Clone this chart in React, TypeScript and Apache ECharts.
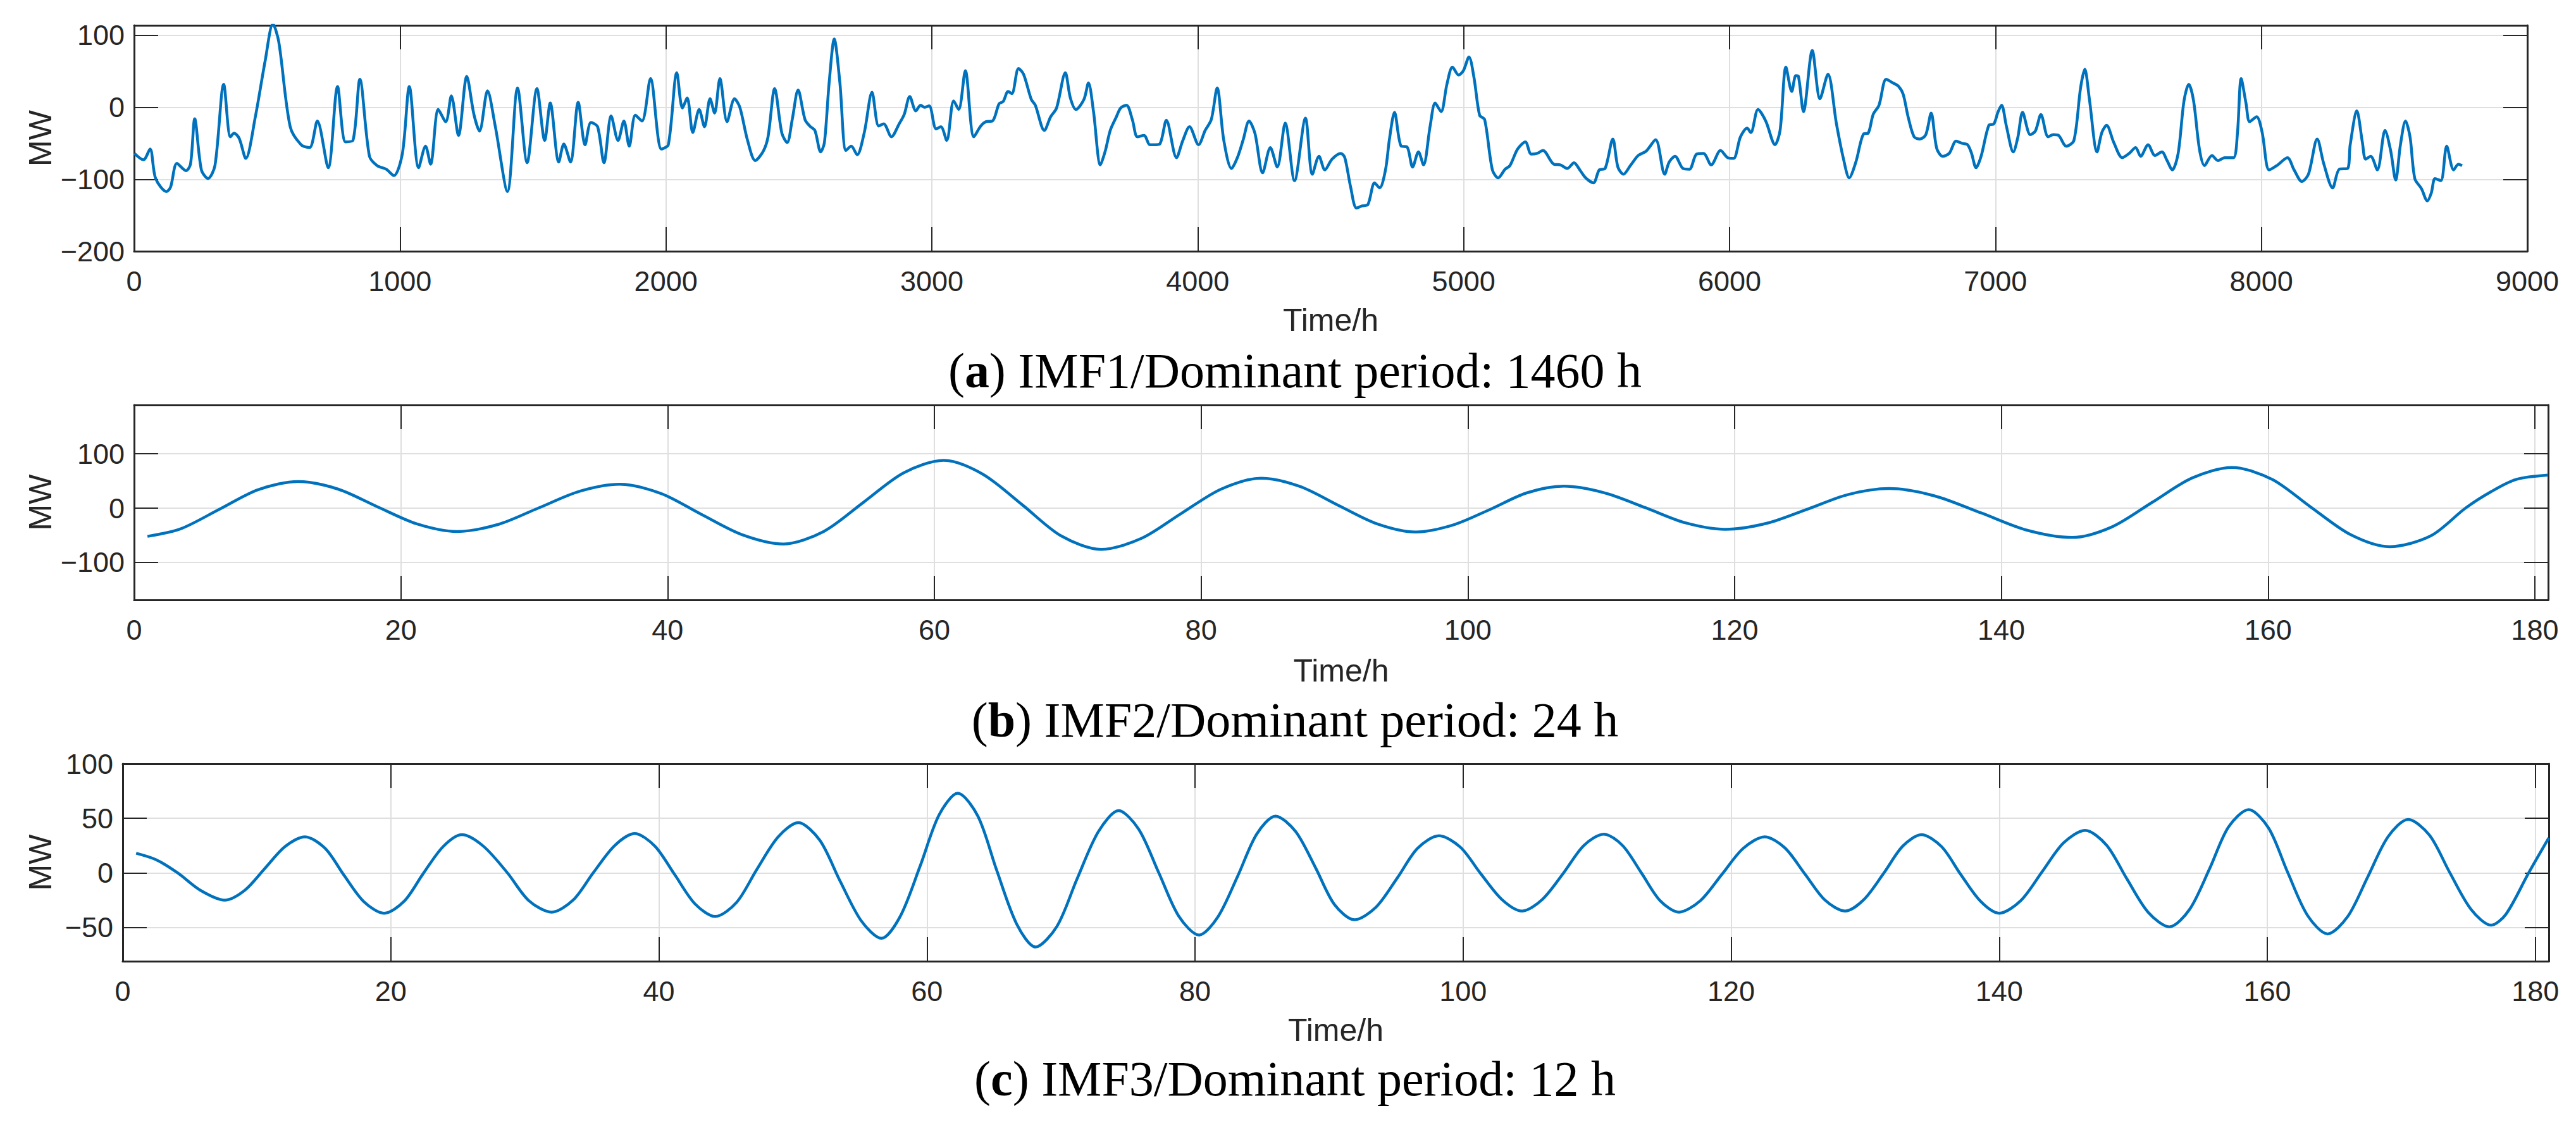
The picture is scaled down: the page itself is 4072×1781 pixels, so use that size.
import React, { useEffect, useRef } from 'react';
import * as echarts from 'echarts';

// IMF1: [hour, MW]
const imf1: number[][] = [
  [1, -64], [35, -73], [60, -58], [81, -99], [122, -117], [137, -111], [161, -78], [195, -88], [212, -79], [228, -16],
  [253, -87], [278, -99], [304, -81], [337, 32], [362, -41], [376, -36], [395, -43], [420, -71], [456, -13], [493, 65],
  [522, 116], [544, 91], [587, -27], [628, -52], [660, -56], [689, -19], [730, -84], [765, 29], [795, -48], [823, -46],
  [849, 39], [885, -68], [914, -81], [948, -86], [977, -95], [1009, -64], [1035, 29], [1070, -84], [1096, -54], [1115, -79],
  [1144, -3], [1172, -20], [1193, 16], [1220, -39], [1251, 43], [1278, -10], [1299, -33], [1329, 23], [1358, -26], [1404, -117],
  [1442, 27], [1478, -77], [1515, 26], [1544, -46], [1565, 6], [1597, -76], [1616, -51], [1641, -76], [1670, 7], [1696, -52],
  [1718, -21], [1743, -27], [1767, -77], [1794, -12], [1820, -46], [1842, -19], [1862, -54], [1885, -11], [1910, -19], [1942, 40],
  [1983, -58], [2009, -52], [2041, 48], [2062, -1], [2080, 13], [2101, -35], [2125, -3], [2145, -27], [2166, 12], [2183, -8],
  [2203, 40], [2230, -20], [2258, 12], [2278, 0], [2307, -46], [2336, -74], [2366, -61], [2384, -41], [2409, 26], [2436, -36],
  [2456, -49], [2475, -17], [2497, 24], [2523, -17], [2541, -26], [2560, -32], [2582, -62], [2596, -49], [2614, 35], [2633, 95],
  [2654, 35], [2677, -60], [2697, -54], [2719, -66], [2746, -35], [2775, 21], [2800, -26], [2819, -23], [2848, -41], [2877, -23],
  [2896, -10], [2917, 15], [2940, -5], [2958, 3], [2972, 0], [2990, 2], [3016, -30], [3034, -27], [3056, -46], [3082, 9],
  [3101, -3], [3126, 51], [3158, -41], [3184, -26], [3203, -20], [3228, -19], [3253, 5], [3268, 8], [3287, 22], [3301, 19],
  [3326, 54], [3345, 46], [3374, 11], [3389, 3], [3423, -32], [3447, -13], [3469, -1], [3502, 48], [3521, 13], [3542, -3],
  [3572, 11], [3589, 34], [3608, -6], [3634, -80], [3652, -61], [3671, -32], [3693, -14], [3710, -1], [3732, 3], [3754, -17],
  [3773, -41], [3798, -39], [3820, -52], [3835, -52], [3857, -51], [3882, -18], [3920, -70], [3944, -46], [3969, -27], [4003, -52],
  [4028, -32], [4051, -17], [4073, 27], [4098, -46], [4127, -85], [4149, -70], [4171, -45], [4193, -19], [4215, -36], [4244, -91],
  [4273, -56], [4299, -83], [4329, -22], [4364, -102], [4405, -15], [4431, -93], [4456, -68], [4478, -87], [4505, -72], [4538, -64],
  [4553, -70], [4575, -111], [4597, -140], [4618, -137], [4640, -135], [4665, -105], [4684, -112], [4706, -87], [4721, -44], [4740, -7],
  [4765, -54], [4787, -55], [4808, -83], [4830, -62], [4849, -80], [4874, -26], [4893, 6], [4915, -6], [4937, 32], [4958, 56],
  [4981, 45], [4999, 51], [5020, 70], [5039, 41], [5060, -11], [5079, -17], [5108, -87], [5130, -98], [5156, -86], [5174, -81],
  [5203, -58], [5232, -48], [5254, -65], [5276, -64], [5298, -60], [5339, -79], [5364, -80], [5390, -85], [5415, -77], [5437, -87],
  [5459, -98], [5488, -105], [5510, -87], [5532, -85], [5561, -44], [5580, -83], [5601, -93], [5627, -81], [5656, -67], [5686, -61],
  [5722, -45], [5756, -93], [5773, -76], [5795, -68], [5825, -85], [5849, -86], [5876, -65], [5902, -64], [5931, -80], [5966, -60],
  [5993, -70], [6015, -71], [6041, -41], [6066, -29], [6080, -35], [6107, -3], [6136, -19], [6171, -52], [6190, -32], [6212, 56],
  [6234, 22], [6249, 44], [6259, 43], [6278, -6], [6311, 79], [6340, 12], [6370, 46], [6402, -23], [6428, -71], [6450, -98],
  [6475, -76], [6504, -37], [6521, -36], [6540, -10], [6562, 3], [6589, 39], [6614, 34], [6636, 29], [6653, 18], [6672, -14],
  [6694, -41], [6716, -44], [6738, -38], [6758, -8], [6779, -57], [6801, -68], [6826, -64], [6852, -47], [6874, -50], [6895, -52],
  [6910, -64], [6927, -84], [6946, -68], [6975, -25], [6994, -23], [7009, -7], [7023, 3], [7041, -26], [7067, -62], [7084, -42],
  [7102, -7], [7131, -38], [7150, -33], [7171, -10], [7198, -41], [7218, -38], [7237, -39], [7266, -54], [7295, -46], [7320, 27],
  [7336, 53], [7353, 12], [7382, -62], [7400, -35], [7418, -25], [7445, -49], [7477, -70], [7503, -64], [7527, -56], [7546, -68],
  [7574, -52], [7600, -67], [7626, -62], [7644, -73], [7665, -87], [7687, -64], [7709, 9], [7727, 32], [7745, 9], [7767, -58],
  [7786, -81], [7814, -67], [7837, -74], [7862, -70], [7895, -70], [7910, -36], [7924, 40], [7942, 6], [7956, -20], [7982, -13],
  [8003, -35], [8029, -87], [8058, -81], [8098, -70], [8123, -87], [8152, -103], [8177, -93], [8210, -44], [8235, -79], [8268, -112],
  [8293, -86], [8324, -85], [8334, -52], [8359, -5], [8380, -49], [8392, -72], [8411, -68], [8436, -87], [8465, -32], [8486, -60],
  [8505, -101], [8523, -52], [8542, -19], [8559, -41], [8577, -99], [8602, -113], [8624, -130], [8639, -119], [8653, -99], [8675, -102],
  [8697, -54], [8723, -87], [8741, -79], [8755, -81],
];

// IMF2
const imf2: number[][] = [
  [1, -52], [3.5, -38], [6.4, -2], [9.3, 34], [12.3, 49],
  [15.3, 35], [18.2, 3], [21.2, -29], [24.2, -43],
  [27.3, -30], [30.3, 0], [33.4, 31], [36.4, 44],
  [39.5, 27], [42.5, -11], [45.6, -49], [48.7, -66],
  [51.7, -43], [54.7, 11], [57.7, 65], [60.7, 88],
  [63.6, 63], [66.6, 6], [69.5, -51], [72.5, -76],
  [75.5, -56], [78.5, -10], [81.5, 35], [84.5, 55],
  [87.4, 40], [90.3, 5], [93.2, -29], [96.1, -44],
  [98.9, -31], [101.7, -2], [104.4, 28], [107.2, 40.5],
  [110.2, 28.5], [113.3, 1], [116.3, -27], [119.3, -39],
  [122.4, -28], [125.5, -1.5], [128.5, 25], [131.6, 36],
  [135, 22.5], [138.5, -9], [141.9, -40.5], [145.3, -54],
  [148.3, -34.5], [151.3, 10.5], [154.3, 55.5], [157.3, 75],
  [160.3, 53], [163.2, 2], [166.2, -49], [169.1, -71],
  [172.2, -51], [174.8, 0], [176.7, 30], [178.6, 53], [181, 61],
];

// IMF3
const imf3: number[][] = [
  [1, 18], [2.5, 12], [4.1, 0], [5.8, -16], [7.6, -25],
  [9.1, -16], [10.6, 4], [12.1, 24], [13.6, 33],
  [15.1, 22.5], [16.5, -2], [18.0, -26.5], [19.5, -37],
  [21.0, -26], [22.4, -1], [23.9, 24], [25.3, 35],
  [26.9, 24.5], [28.7, 0], [30.3, -25.5], [32.0, -36],
  [33.6, -25], [35.1, 0], [36.7, 25], [38.2, 36],
  [39.7, 24.5], [41.2, -2], [42.7, -28.5], [44.2, -40],
  [45.8, -27], [47.3, 3], [48.9, 33], [50.4, 46],
  [52.0, 30], [53.5, -7], [55.1, -44], [56.6, -60],
  [58.0, -40], [59.5, 6.5], [60.9, 53], [62.3, 73],
  [63.8, 52], [65.2, 2.5], [66.7, -47], [68.1, -68],
  [69.7, -49], [71.2, -5.5], [72.8, 38], [74.3, 57],
  [75.8, 40], [77.3, 0], [78.8, -40], [80.3, -57],
  [81.7, -40.5], [83.2, -2.5], [84.6, 35.5], [86.0, 52],
  [87.5, 38], [89.0, 4.5], [90.4, -29], [91.9, -43],
  [93.5, -31.5], [95.1, -4.5], [96.6, 22.5], [98.2, 34],
  [99.8, 23.5], [101.3, -0.5], [102.9, -24.5], [104.4, -35],
  [105.9, -24.5], [107.5, 0], [109.0, 25], [110.5, 35.5],
  [111.9, 25], [113.3, 0], [114.7, -25.5], [116.1, -36],
  [117.7, -25.5], [119.3, -1.5], [120.9, 22.5], [122.5, 33],
  [124.0, 23], [125.5, -1], [127.0, -25], [128.5, -35],
  [129.9, -24.5], [131.4, 0], [132.8, 24.5], [134.2, 35],
  [135.7, 24], [137.1, -1], [138.6, -26], [140.0, -37],
  [141.6, -25.5], [143.2, 1], [144.8, 27.5], [146.4, 39],
  [148.0, 25.5], [149.5, -5], [151.1, -36], [152.7, -49.5],
  [154.2, -33.5], [155.7, 4], [157.1, 42], [158.6, 58],
  [160.1, 41], [161.5, 1], [163.0, -39], [164.5, -56],
  [166.0, -40], [167.5, -3.5], [169.0, 33], [170.5, 49],
  [172.1, 34.5], [173.6, 0.5], [175.2, -33.5], [176.7, -48],
  [177.8, -38], [179.5, 0], [181, 32],
];

const timeTicksA = [0, 1000, 2000, 3000, 4000, 5000, 6000, 7000, 8000, 9000];
const timeTicksBC = [0, 20, 40, 60, 80, 100, 120, 140, 160, 180];
const mwTicksA = [-200, -100, 0, 100];
const mwTicksB = [-100, 0, 100];
const mwTicksC = [-50, 0, 50, 100];

const captionLetters = ['a', 'b', 'c'];
const captionTexts = [
  ' IMF1/Dominant period: 1460 h',
  ' IMF2/Dominant period: 24 h',
  ' IMF3/Dominant period: 12 h',
];

const DARK = '#262626';
const GRID_GRAY = '#dfdfdf';
const LINE_BLUE = '#0072BD';
const SANS = '"Liberation Sans", Arial, sans-serif';
const SERIF = '"Liberation Serif", "Times New Roman", serif';
const W = 4072;
const H = 1781;

const panels = [
  { data: imf1, xMin: 0, xMax: 9000, xTicks: timeTicksA, yMin: -200, yMax: 114, yTicks: mwTicksA,
    left: 212, right: 77, top: 40, height: 357, nameY: 506, captionY: 585, smooth: 0.3 },
  { data: imf2, xMin: 0, xMax: 181, xTicks: timeTicksBC, yMin: -169, yMax: 190, yTicks: mwTicksB,
    left: 212, right: 44, top: 640, height: 308, nameY: 1060, captionY: 1137, smooth: 0.3 },
  { data: imf3, xMin: 0, xMax: 181, xTicks: timeTicksBC, yMin: -81, yMax: 100, yTicks: mwTicksC,
    left: 194, right: 43, top: 1207, height: 312, nameY: 1628, captionY: 1704, smooth: 0.3 },
];

const minus = (v: number) => String(v).replace('-', '\u2212');

function makeAxis(kind: 'x' | 'y', gridIndex: number, min: number, max: number, ticks: number[], main: boolean) {
  return {
    type: 'value',
    gridIndex,
    min,
    max,
    position: kind === 'x' ? (main ? 'bottom' : 'top') : (main ? 'left' : 'right'),
    axisLine: { show: true, onZero: false, lineStyle: { color: DARK, width: 3 } },
    axisTick: { show: true, inside: true, length: 38, customValues: ticks, lineStyle: { color: DARK, width: 2 } },
    axisLabel: {
      show: main,
      customValues: ticks,
      margin: kind === 'x' ? 25 : 15,
      fontFamily: SANS,
      fontSize: 45,
      color: DARK,
      formatter: minus,
    },
    splitLine: { show: main, lineStyle: { color: GRID_GRAY, width: 2 } },
  };
}

export default function App() {
  const chartRef = useRef<HTMLDivElement>(null);

  useEffect(() => {
    document.body.style.margin = '0';
    if (!chartRef.current) return;
    const chart = echarts.init(chartRef.current, null, { renderer: 'svg' });

    const xAxes: any[] = [];
    const yAxes: any[] = [];
    const graphics: any[] = [];

    panels.forEach((p, i) => {
      xAxes.push(makeAxis('x', i, p.xMin, p.xMax, p.xTicks, true));
      xAxes.push(makeAxis('x', i, p.xMin, p.xMax, p.xTicks, false));
      yAxes.push(makeAxis('y', i, p.yMin, p.yMax, p.yTicks, true));
      yAxes.push(makeAxis('y', i, p.yMin, p.yMax, p.yTicks, false));

      const plotCenterX = p.left + (W - p.left - p.right) / 2;
      graphics.push({
        type: 'text',
        x: 64,
        y: p.top + p.height / 2,
        rotation: Math.PI / 2,
        style: { text: 'MW', fontFamily: SANS, fontSize: 50, fill: DARK, align: 'center', verticalAlign: 'middle' },
      });
      graphics.push({
        type: 'text',
        x: plotCenterX,
        y: p.nameY,
        style: { text: 'Time/h', fontFamily: SANS, fontSize: 50, fill: DARK, align: 'center', verticalAlign: 'middle' },
      });
      graphics.push({
        type: 'text',
        x: 2047,
        y: p.captionY,
        style: {
          text: '({b|' + captionLetters[i] + '})' + captionTexts[i],
          fontFamily: SERIF,
          fontSize: 78,
          fill: '#000',
          align: 'center',
          verticalAlign: 'middle',
          rich: { b: { fontFamily: SERIF, fontSize: 78, fontWeight: 'bold', fill: '#000' } },
        },
      });
    });

    const option: any = {
      animation: false,
      backgroundColor: '#fff',
      grid: panels.map((p) => ({ left: p.left, right: p.right, top: p.top, height: p.height, containLabel: false })),
      xAxis: xAxes,
      yAxis: yAxes,
      series: panels.map((p, i) => ({
        type: 'line',
        xAxisIndex: i * 2,
        yAxisIndex: i * 2,
        data: p.data,
        showSymbol: false,
        smooth: p.smooth,
        clip: true,
        lineStyle: { color: LINE_BLUE, width: 4.5 },
      })),
      graphic: graphics,
    };

    chart.setOption(option);
    return () => chart.dispose();
  }, []);

  return <div ref={chartRef} style={{ width: W + 'px', height: H + 'px' }} />;
}
